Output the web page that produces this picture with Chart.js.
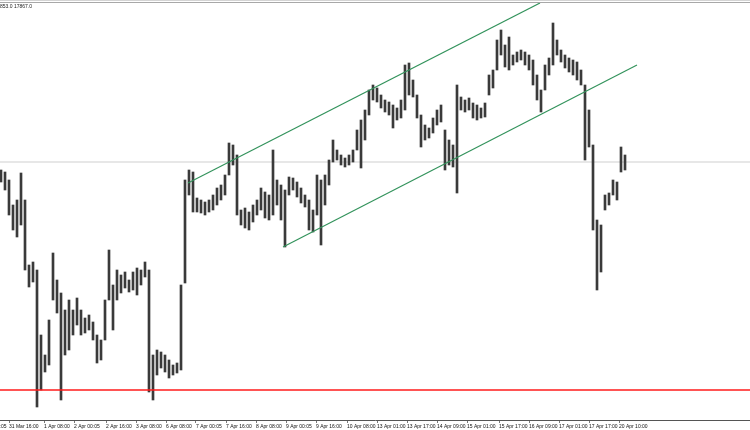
<!DOCTYPE html>
<html>
<head>
<meta charset="utf-8">
<script src="https://cdn.jsdelivr.net/npm/chart.js@4.4.1/dist/chart.umd.min.js"></script>
<style>
  html, body { margin: 0; padding: 0; background: #fff; }
  #grafico { display: block; }
</style>
</head>
<body>
<canvas id="grafico" width="750" height="430"></canvas>
<script>
/* =========================
   DATA
   ========================= */
const barHighs = [
  17660, 17656, 17640, 17590, 17600, 17654, 17600, 17470, 17476, 17460,
  17330, 17290, 17360, 17494, 17440, 17414, 17380, 17400, 17380, 17404,
  17380, 17364, 17370, 17356, 17330, 17320, 17400, 17500, 17430, 17460,
  17450, 17456, 17440, 17456, 17464, 17460, 17476, 17460, 17290, 17300,
  17296, 17290, 17280, 17270, 17274, 17430, 17640, 17660, 17656, 17604,
  17600, 17596, 17600, 17610, 17624, 17630, 17650, 17714, 17710, 17690,
  17580, 17584, 17576, 17590, 17600, 17624, 17616, 17610, 17700, 17640,
  17630, 17620, 17646, 17644, 17636, 17624, 17610, 17600, 17580, 17650,
  17640, 17650, 17680, 17720, 17700, 17690, 17684, 17690, 17700, 17740,
  17760, 17780, 17820, 17830, 17824, 17810, 17800, 17796, 17790, 17784,
  17800, 17870, 17874, 17840, 17810, 17770, 17750, 17744, 17764, 17780,
  17790, 17740, 17720, 17710, 17830, 17806, 17800, 17804, 17794, 17790,
  17784, 17794, 17850, 17860, 17920, 17940, 17910, 17926, 17890, 17896,
  17900, 17896, 17890, 17880, 17850, 17820, 17870, 17884, 17954, 17920,
  17900, 17890, 17884, 17880, 17876, 17860, 17830, 17780, 17710, 17560,
  17550, 17610, 17614, 17640, 17636, 17706, 17690
];
const barLows = [
  17636, 17620, 17570, 17540, 17526, 17550, 17460, 17426, 17436, 17186,
  17220, 17256, 17270, 17400, 17374, 17200, 17290, 17300, 17330, 17350,
  17330, 17334, 17340, 17320, 17274, 17280, 17320, 17400, 17340, 17400,
  17414, 17424, 17416, 17420, 17410, 17430, 17446, 17216, 17200, 17250,
  17264, 17256, 17244, 17250, 17254, 17260, 17434, 17610, 17576, 17576,
  17574, 17570, 17576, 17580, 17590, 17600, 17610, 17650, 17670, 17570,
  17550, 17544, 17540, 17556, 17570, 17580, 17564, 17560, 17570, 17590,
  17560, 17506, 17610, 17620, 17606, 17594, 17586, 17540, 17536, 17570,
  17510, 17590, 17630, 17676, 17680, 17670, 17666, 17670, 17676, 17700,
  17664, 17720, 17770, 17800, 17796, 17784, 17776, 17770, 17744, 17760,
  17764, 17780, 17810, 17806, 17764, 17706, 17720, 17724, 17734, 17750,
  17756, 17660, 17670, 17666, 17614, 17780, 17776, 17780, 17764, 17760,
  17764, 17766, 17810, 17824, 17860, 17890, 17866, 17860, 17870, 17876,
  17880, 17870, 17860, 17830, 17800, 17776, 17820, 17850, 17870, 17890,
  17876, 17864, 17856, 17850, 17840, 17830, 17680, 17706, 17540, 17420,
  17456, 17580, 17590, 17610, 17600, 17656, 17660
];

// time axis: bar position of each label and its text
const tickBars = [-6, 2, 10.75, 18.25, 26.25, 33.75, 41.25, 48.75, 56.25, 63.75, 71.25,
  78.75, 86.5, 94, 101.5, 109, 116.5, 124.5, 132, 139.5, 147, 154.5];
const tickLabels = ["31 Mar 00:05", "31 Mar 16:00", "1 Apr 08:00", "2 Apr 00:05", "2 Apr 16:00",
  "3 Apr 08:00", "6 Apr 08:00", "7 Apr 00:05", "7 Apr 16:00", "8 Apr 08:00", "9 Apr 00:05",
  "9 Apr 16:00", "10 Apr 08:00", "13 Apr 01:00", "13 Apr 17:00", "14 Apr 09:00", "15 Apr 01:00",
  "15 Apr 17:00", "16 Apr 09:00", "17 Apr 01:00", "17 Apr 17:00", "20 Apr 10:00"];

// trend channel anchors (bar, price)
const upperChannelBars = [46.75, 134.75];
const upperChannelPrices = [17634, 17994];
const lowerChannelBars = [70.5, 159];
const lowerChannelPrices = [17506, 17870];

const supportLevel = 17220;
const currentPrice = 17676;
const headerText = "853.0 17867.0";

/* =========================
   TOP FRAME + HEADER TEXT
   ========================= */
const marcoSuperior = {
    id: "marcoSuperior",
    afterDraw(chart) {
        const ctx = chart.ctx;
        ctx.save();
        ctx.fillStyle = "#d4d4d4";
        ctx.fillRect(0, 0, chart.width, 1);
        ctx.fillStyle = "#a8a8a8";
        ctx.fillRect(0, 2, chart.width, 1);
        ctx.fillStyle = "#222";
        ctx.font = "5px 'Liberation Sans', Arial, sans-serif";
        ctx.textBaseline = "top";
        ctx.fillText(headerText, 0, 4);
        ctx.restore();
    }
};

/* =========================
   CHART
   ========================= */
const barras = barHighs.map((alto, i) => ({ x: i, y: [barLows[i], alto] }));
const canal = (xs, ys) => xs.map((x, i) => ({ x: x, y: ys[i] }));
const horizontal = nivel => [{ x: -2, y: nivel }, { x: 190, y: nivel }];

new Chart(document.getElementById("grafico").getContext("2d"), {
    type: "bar",
    data: {
        datasets: [
            {
                type: "line",
                data: horizontal(currentPrice),
                borderColor: "#cfcfcf",
                borderWidth: 1,
                pointRadius: 0,
                order: 5
            },
            {
                data: barras,
                backgroundColor: "#3a3a3a",
                barThickness: 2,
                grouped: false,
                order: 4
            },
            {
                type: "line",
                data: canal(upperChannelBars, upperChannelPrices),
                borderColor: "#33935c",
                borderWidth: 1.2,
                pointRadius: 0,
                order: 2
            },
            {
                type: "line",
                data: canal(lowerChannelBars, lowerChannelPrices),
                borderColor: "#33935c",
                borderWidth: 1.2,
                pointRadius: 0,
                order: 2
            },
            {
                type: "line",
                data: horizontal(supportLevel),
                borderColor: "#ff1a1a",
                borderWidth: 1.5,
                pointRadius: 0,
                order: 1
            }
        ]
    },
    options: {
        responsive: false,
        animation: false,
        devicePixelRatio: 1,
        layout: { padding: { top: 3, left: 0, right: 0, bottom: 0 } },
        plugins: {
            legend: { display: false },
            tooltip: { enabled: false }
        },
        scales: {
            x: {
                type: "linear",
                min: -0.25,
                max: 187.25,
                offset: false,
                grid: {
                    display: true,
                    drawOnChartArea: false,
                    drawTicks: true,
                    tickLength: 3,
                    offset: false,
                    color: "#777"
                },
                border: { display: true, color: "#555", width: 1 },
                ticks: {
                    autoSkip: false,
                    maxRotation: 0,
                    minRotation: 0,
                    align: "start",
                    padding: 1,
                    color: "#111",
                    font: { family: "'Liberation Sans', Arial, sans-serif", size: 5 },
                    callback: (valor, indice) => tickLabels[indice]
                },
                afterBuildTicks: eje => {
                    eje.ticks = tickBars.map(v => ({ value: v }));
                },
                afterFit: eje => {
                    eje.height = 10;
                    eje.paddingLeft = 0;
                    eje.paddingRight = 0;
                }
            },
            y: {
                display: false,
                min: 17160,
                max: 17994
            }
        }
    },
    plugins: [marcoSuperior]
});
</script>
</body>
</html>
